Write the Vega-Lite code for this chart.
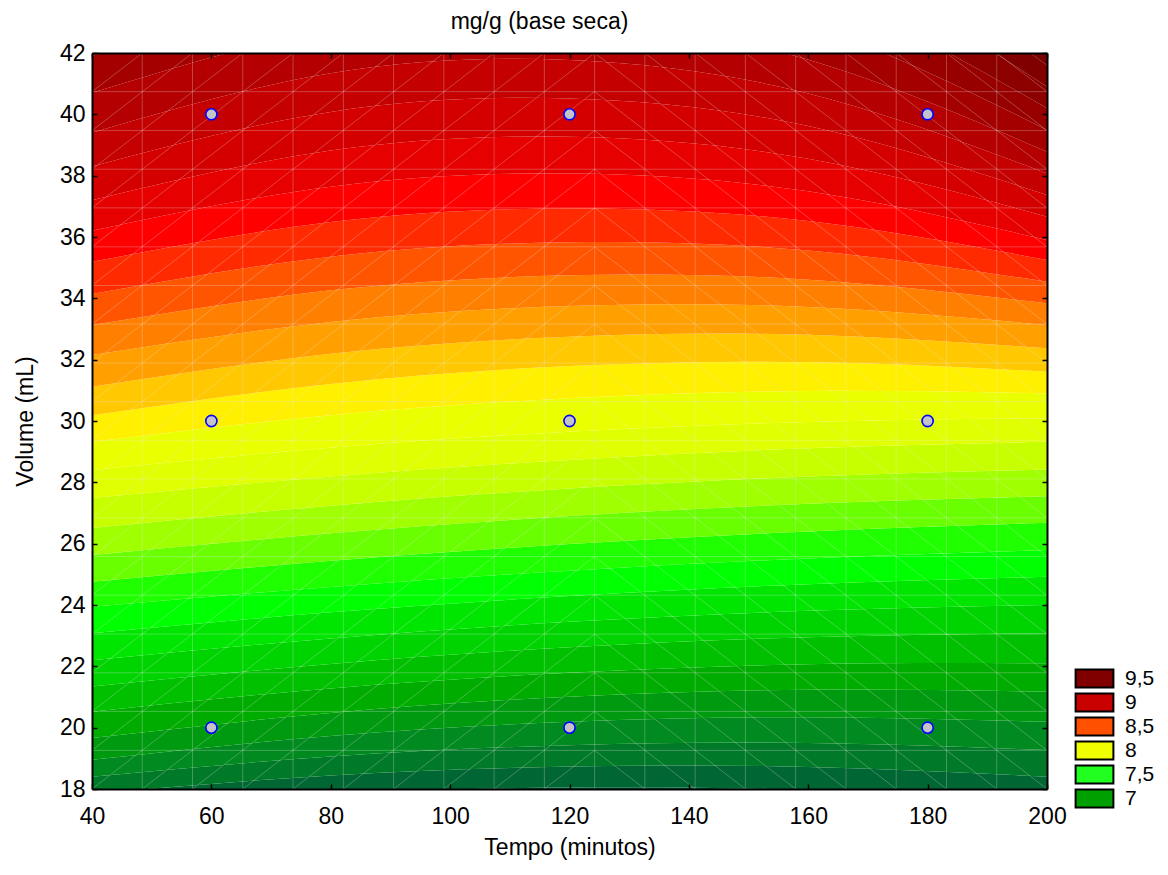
{
  "$schema": "https://vega.github.io/schema/vega-lite/v6.json",
  "width": 955,
  "height": 736,
  "autosize": {"type": "none"},
  "padding": {"left": 92, "top": 53, "right": 121, "bottom": 86},
  "background": "white",
  "title": {"text": "mg/g (base seca)", "fontSize": 23, "font": "Liberation Sans", "fontWeight": "normal", "color": "black", "offset": 8, "dx": -30},
  "config": {"view": {"stroke": null}, "font": "Liberation Sans"},
  "datasets": {
    "bands": [
      {"z":6.3,"t":40,"lo":10,"hi":16.8},{"z":6.3,"t":80,"lo":10,"hi":17.26},{"z":6.3,"t":120,"lo":10,"hi":17.4},{"z":6.3,"t":160,"lo":10,"hi":17.21},{"z":6.3,"t":200,"lo":10,"hi":16.7},
      {"z":6.4,"t":40,"lo":16.8,"hi":17.3},{"z":6.4,"t":80,"lo":17.26,"hi":17.83},{"z":6.4,"t":120,"lo":17.4,"hi":18.05},{"z":6.4,"t":160,"lo":17.21,"hi":17.96},{"z":6.4,"t":200,"lo":16.7,"hi":17.55},
      {"z":6.5,"t":40,"lo":17.3,"hi":17.85},{"z":6.5,"t":80,"lo":17.83,"hi":18.44},{"z":6.5,"t":120,"lo":18.05,"hi":18.73},{"z":6.5,"t":160,"lo":17.96,"hi":18.72},{"z":6.5,"t":200,"lo":17.55,"hi":18.4},
      {"z":6.6,"t":40,"lo":17.85,"hi":18.4},{"z":6.6,"t":80,"lo":18.44,"hi":19.06},{"z":6.6,"t":120,"lo":18.73,"hi":19.43},{"z":6.6,"t":160,"lo":18.72,"hi":19.5},{"z":6.6,"t":200,"lo":18.4,"hi":19.27},
      {"z":6.7,"t":40,"lo":18.4,"hi":18.95},{"z":6.7,"t":80,"lo":19.06,"hi":19.73},{"z":6.7,"t":120,"lo":19.43,"hi":20.19},{"z":6.7,"t":160,"lo":19.5,"hi":20.34},{"z":6.7,"t":200,"lo":19.27,"hi":20.19},
      {"z":6.8,"t":40,"lo":18.95,"hi":19.66},{"z":6.8,"t":80,"lo":19.73,"hi":20.48},{"z":6.8,"t":120,"lo":20.19,"hi":21.01},{"z":6.8,"t":160,"lo":20.34,"hi":21.24},{"z":6.8,"t":200,"lo":20.19,"hi":21.17},
      {"z":6.9,"t":40,"lo":19.66,"hi":20.52},{"z":6.9,"t":80,"lo":20.48,"hi":21.28},{"z":6.9,"t":120,"lo":21.01,"hi":21.79},{"z":6.9,"t":160,"lo":21.24,"hi":22.07},{"z":6.9,"t":200,"lo":21.17,"hi":22.1},
      {"z":7.0,"t":40,"lo":20.52,"hi":21.34},{"z":7.0,"t":80,"lo":21.28,"hi":22.08},{"z":7.0,"t":120,"lo":21.79,"hi":22.62},{"z":7.0,"t":160,"lo":22.07,"hi":22.95},{"z":7.0,"t":200,"lo":22.1,"hi":23.08},
      {"z":7.1,"t":40,"lo":21.34,"hi":22.2},{"z":7.1,"t":80,"lo":22.08,"hi":22.91},{"z":7.1,"t":120,"lo":22.62,"hi":23.45},{"z":7.1,"t":160,"lo":22.95,"hi":23.81},{"z":7.1,"t":200,"lo":23.08,"hi":24.0},
      {"z":7.2,"t":40,"lo":22.2,"hi":23.08},{"z":7.2,"t":80,"lo":22.91,"hi":23.76},{"z":7.2,"t":120,"lo":23.45,"hi":24.29},{"z":7.2,"t":160,"lo":23.81,"hi":24.68},{"z":7.2,"t":200,"lo":24.0,"hi":24.92},
      {"z":7.3,"t":40,"lo":23.08,"hi":23.94},{"z":7.3,"t":80,"lo":23.76,"hi":24.59},{"z":7.3,"t":120,"lo":24.29,"hi":25.12},{"z":7.3,"t":160,"lo":24.68,"hi":25.52},{"z":7.3,"t":200,"lo":24.92,"hi":25.79},
      {"z":7.4,"t":40,"lo":23.94,"hi":24.76},{"z":7.4,"t":80,"lo":24.59,"hi":25.44},{"z":7.4,"t":120,"lo":25.12,"hi":25.99},{"z":7.4,"t":160,"lo":25.52,"hi":26.4},{"z":7.4,"t":200,"lo":25.79,"hi":26.68},
      {"z":7.5,"t":40,"lo":24.76,"hi":25.63},{"z":7.5,"t":80,"lo":25.44,"hi":26.34},{"z":7.5,"t":120,"lo":25.99,"hi":26.9},{"z":7.5,"t":160,"lo":26.4,"hi":27.3},{"z":7.5,"t":200,"lo":26.68,"hi":27.55},
      {"z":7.6,"t":40,"lo":25.63,"hi":26.51},{"z":7.6,"t":80,"lo":26.34,"hi":27.24},{"z":7.6,"t":120,"lo":26.9,"hi":27.8},{"z":7.6,"t":160,"lo":27.3,"hi":28.19},{"z":7.6,"t":200,"lo":27.55,"hi":28.42},
      {"z":7.7,"t":40,"lo":26.51,"hi":27.49},{"z":7.7,"t":80,"lo":27.24,"hi":28.19},{"z":7.7,"t":120,"lo":27.8,"hi":28.73},{"z":7.7,"t":160,"lo":28.19,"hi":29.11},{"z":7.7,"t":200,"lo":28.42,"hi":29.32},
      {"z":7.8,"t":40,"lo":27.49,"hi":28.4},{"z":7.8,"t":80,"lo":28.19,"hi":29.13},{"z":7.8,"t":120,"lo":28.73,"hi":29.65},{"z":7.8,"t":160,"lo":29.11,"hi":29.97},{"z":7.8,"t":200,"lo":29.32,"hi":30.09},
      {"z":7.9,"t":40,"lo":28.4,"hi":29.32},{"z":7.9,"t":80,"lo":29.13,"hi":30.19},{"z":7.9,"t":120,"lo":29.65,"hi":30.74},{"z":7.9,"t":160,"lo":29.97,"hi":30.98},{"z":7.9,"t":200,"lo":30.09,"hi":30.9},
      {"z":8.0,"t":40,"lo":29.32,"hi":30.19},{"z":8.0,"t":80,"lo":30.19,"hi":31.21},{"z":8.0,"t":120,"lo":30.74,"hi":31.79},{"z":8.0,"t":160,"lo":30.98,"hi":31.92},{"z":8.0,"t":200,"lo":30.9,"hi":31.61},
      {"z":8.1,"t":40,"lo":30.19,"hi":31.12},{"z":8.1,"t":80,"lo":31.21,"hi":32.19},{"z":8.1,"t":120,"lo":31.79,"hi":32.75},{"z":8.1,"t":160,"lo":31.92,"hi":32.81},{"z":8.1,"t":200,"lo":31.61,"hi":32.37},
      {"z":8.2,"t":40,"lo":31.12,"hi":32.15},{"z":8.2,"t":80,"lo":32.19,"hi":33.23},{"z":8.2,"t":120,"lo":32.75,"hi":33.75},{"z":8.2,"t":160,"lo":32.81,"hi":33.72},{"z":8.2,"t":200,"lo":32.37,"hi":33.13},
      {"z":8.3,"t":40,"lo":32.15,"hi":33.13},{"z":8.3,"t":80,"lo":33.23,"hi":34.26},{"z":8.3,"t":120,"lo":33.75,"hi":34.75},{"z":8.3,"t":160,"lo":33.72,"hi":34.61},{"z":8.3,"t":200,"lo":33.13,"hi":33.84},
      {"z":8.4,"t":40,"lo":33.13,"hi":34.14},{"z":8.4,"t":80,"lo":34.26,"hi":35.36},{"z":8.4,"t":120,"lo":34.75,"hi":35.83},{"z":8.4,"t":160,"lo":34.61,"hi":35.56},{"z":8.4,"t":200,"lo":33.84,"hi":34.54},
      {"z":8.5,"t":40,"lo":34.14,"hi":35.19},{"z":8.5,"t":80,"lo":35.36,"hi":36.49},{"z":8.5,"t":120,"lo":35.83,"hi":36.93},{"z":8.5,"t":160,"lo":35.56,"hi":36.52},{"z":8.5,"t":200,"lo":34.54,"hi":35.25},
      {"z":8.6,"t":40,"lo":35.19,"hi":36.2},{"z":8.6,"t":80,"lo":36.49,"hi":37.64},{"z":8.6,"t":120,"lo":36.93,"hi":38.07},{"z":8.6,"t":160,"lo":36.52,"hi":37.49},{"z":8.6,"t":200,"lo":35.25,"hi":35.9},
      {"z":8.7,"t":40,"lo":36.2,"hi":37.2},{"z":8.7,"t":80,"lo":37.64,"hi":38.82},{"z":8.7,"t":120,"lo":38.07,"hi":39.27},{"z":8.7,"t":160,"lo":37.49,"hi":38.55},{"z":8.7,"t":200,"lo":35.9,"hi":36.66},
      {"z":8.8,"t":40,"lo":37.2,"hi":38.3},{"z":8.8,"t":80,"lo":38.82,"hi":40.08},{"z":8.8,"t":120,"lo":39.27,"hi":40.52},{"z":8.8,"t":160,"lo":38.55,"hi":39.62},{"z":8.8,"t":200,"lo":36.66,"hi":37.37},
      {"z":8.9,"t":40,"lo":38.3,"hi":39.4},{"z":8.9,"t":80,"lo":40.08,"hi":41.34},{"z":8.9,"t":120,"lo":40.52,"hi":41.77},{"z":8.9,"t":160,"lo":39.62,"hi":40.68},{"z":8.9,"t":200,"lo":37.37,"hi":38.07},
      {"z":9.0,"t":40,"lo":39.4,"hi":40.7},{"z":9.0,"t":80,"lo":41.34,"hi":42.74},{"z":9.0,"t":120,"lo":41.77,"hi":43.1},{"z":9.0,"t":160,"lo":40.68,"hi":41.78},{"z":9.0,"t":200,"lo":38.07,"hi":38.78},
      {"z":9.1,"t":40,"lo":40.7,"hi":41.9},{"z":9.1,"t":80,"lo":42.74,"hi":44.15},{"z":9.1,"t":120,"lo":43.1,"hi":44.5},{"z":9.1,"t":160,"lo":41.78,"hi":42.95},{"z":9.1,"t":200,"lo":38.78,"hi":39.49},
      {"z":9.2,"t":40,"lo":41.9,"hi":43.2},{"z":9.2,"t":80,"lo":44.15,"hi":45.68},{"z":9.2,"t":120,"lo":44.5,"hi":46.0},{"z":9.2,"t":160,"lo":42.95,"hi":44.18},{"z":9.2,"t":200,"lo":39.49,"hi":40.2},
      {"z":9.3,"t":40,"lo":43.2,"hi":44.6},{"z":9.3,"t":80,"lo":45.68,"hi":47.31},{"z":9.3,"t":120,"lo":46.0,"hi":47.6},{"z":9.3,"t":160,"lo":44.18,"hi":45.46},{"z":9.3,"t":200,"lo":40.2,"hi":40.9},
      {"z":9.4,"t":40,"lo":44.6,"hi":46.0},{"z":9.4,"t":80,"lo":47.31,"hi":49.03},{"z":9.4,"t":120,"lo":47.6,"hi":49.3},{"z":9.4,"t":160,"lo":45.46,"hi":46.83},{"z":9.4,"t":200,"lo":40.9,"hi":41.6},
      {"z":9.5,"t":40,"lo":46.0,"hi":47.5},{"z":9.5,"t":80,"lo":49.03,"hi":50.78},{"z":9.5,"t":120,"lo":49.3,"hi":51.0},{"z":9.5,"t":160,"lo":46.83,"hi":48.18},{"z":9.5,"t":200,"lo":41.6,"hi":42.3},
      {"z":9.6,"t":40,"lo":47.5,"hi":60},{"z":9.6,"t":80,"lo":50.78,"hi":60},{"z":9.6,"t":120,"lo":51.0,"hi":60},{"z":9.6,"t":160,"lo":48.18,"hi":60},{"z":9.6,"t":200,"lo":42.3,"hi":60}
    ],
    "mesh": [
      {"t1":48.42,"v1":18,"t2":48.42,"v2":42},{"t1":56.84,"v1":18,"t2":56.84,"v2":42},{"t1":65.26,"v1":18,"t2":65.26,"v2":42},
      {"t1":73.68,"v1":18,"t2":73.68,"v2":42},{"t1":82.11,"v1":18,"t2":82.11,"v2":42},{"t1":90.53,"v1":18,"t2":90.53,"v2":42},
      {"t1":98.95,"v1":18,"t2":98.95,"v2":42},{"t1":107.37,"v1":18,"t2":107.37,"v2":42},{"t1":115.79,"v1":18,"t2":115.79,"v2":42},
      {"t1":124.21,"v1":18,"t2":124.21,"v2":42},{"t1":132.63,"v1":18,"t2":132.63,"v2":42},{"t1":141.05,"v1":18,"t2":141.05,"v2":42},
      {"t1":149.47,"v1":18,"t2":149.47,"v2":42},{"t1":157.89,"v1":18,"t2":157.89,"v2":42},{"t1":166.32,"v1":18,"t2":166.32,"v2":42},
      {"t1":174.74,"v1":18,"t2":174.74,"v2":42},{"t1":183.16,"v1":18,"t2":183.16,"v2":42},{"t1":191.58,"v1":18,"t2":191.58,"v2":42},
      {"t1":40,"v1":19.26,"t2":200,"v2":19.26},{"t1":40,"v1":20.53,"t2":200,"v2":20.53},{"t1":40,"v1":21.79,"t2":200,"v2":21.79},
      {"t1":40,"v1":23.05,"t2":200,"v2":23.05},{"t1":40,"v1":24.32,"t2":200,"v2":24.32},{"t1":40,"v1":25.58,"t2":200,"v2":25.58},
      {"t1":40,"v1":26.84,"t2":200,"v2":26.84},{"t1":40,"v1":28.11,"t2":200,"v2":28.11},{"t1":40,"v1":29.37,"t2":200,"v2":29.37},
      {"t1":40,"v1":30.63,"t2":200,"v2":30.63},{"t1":40,"v1":31.89,"t2":200,"v2":31.89},{"t1":40,"v1":33.16,"t2":200,"v2":33.16},
      {"t1":40,"v1":34.42,"t2":200,"v2":34.42},{"t1":40,"v1":35.68,"t2":200,"v2":35.68},{"t1":40,"v1":36.95,"t2":200,"v2":36.95},
      {"t1":40,"v1":38.21,"t2":200,"v2":38.21},{"t1":40,"v1":39.47,"t2":200,"v2":39.47},{"t1":40,"v1":40.74,"t2":200,"v2":40.74},
      {"t1":40,"v1":18,"t2":124.21,"v2":30.63},{"t1":40,"v1":19.26,"t2":124.21,"v2":31.89},{"t1":40,"v1":20.53,"t2":124.21,"v2":33.16},
      {"t1":40,"v1":21.79,"t2":124.21,"v2":34.42},{"t1":40,"v1":23.05,"t2":124.21,"v2":35.68},{"t1":40,"v1":24.32,"t2":124.21,"v2":36.95},
      {"t1":40,"v1":25.58,"t2":124.21,"v2":38.21},{"t1":40,"v1":26.84,"t2":124.21,"v2":39.47},{"t1":40,"v1":28.11,"t2":124.21,"v2":40.74},
      {"t1":40,"v1":29.37,"t2":124.21,"v2":42},{"t1":40,"v1":30.63,"t2":115.79,"v2":42},{"t1":40,"v1":31.89,"t2":107.37,"v2":42},
      {"t1":40,"v1":33.16,"t2":98.95,"v2":42},{"t1":40,"v1":34.42,"t2":90.53,"v2":42},{"t1":40,"v1":35.68,"t2":82.11,"v2":42},
      {"t1":40,"v1":36.95,"t2":73.68,"v2":42},{"t1":40,"v1":38.21,"t2":65.26,"v2":42},{"t1":40,"v1":39.47,"t2":56.84,"v2":42},
      {"t1":40,"v1":40.74,"t2":48.42,"v2":42},
      {"t1":48.42,"v1":18,"t2":124.21,"v2":29.37},{"t1":56.84,"v1":18,"t2":124.21,"v2":28.11},{"t1":65.26,"v1":18,"t2":124.21,"v2":26.84},
      {"t1":73.68,"v1":18,"t2":124.21,"v2":25.58},{"t1":82.11,"v1":18,"t2":124.21,"v2":24.32},{"t1":90.53,"v1":18,"t2":124.21,"v2":23.05},
      {"t1":98.95,"v1":18,"t2":124.21,"v2":21.79},{"t1":107.37,"v1":18,"t2":124.21,"v2":20.53},{"t1":115.79,"v1":18,"t2":124.21,"v2":19.26},
      {"t1":124.21,"v1":19.26,"t2":132.63,"v2":18},{"t1":124.21,"v1":20.53,"t2":141.05,"v2":18},{"t1":124.21,"v1":21.79,"t2":149.47,"v2":18},
      {"t1":124.21,"v1":23.05,"t2":157.89,"v2":18},{"t1":124.21,"v1":24.32,"t2":166.32,"v2":18},{"t1":124.21,"v1":25.58,"t2":174.74,"v2":18},
      {"t1":124.21,"v1":26.84,"t2":183.16,"v2":18},{"t1":124.21,"v1":28.11,"t2":191.58,"v2":18},{"t1":124.21,"v1":29.37,"t2":200,"v2":18},
      {"t1":124.21,"v1":30.63,"t2":200,"v2":19.26},{"t1":124.21,"v1":31.89,"t2":200,"v2":20.53},{"t1":124.21,"v1":33.16,"t2":200,"v2":21.79},
      {"t1":124.21,"v1":34.42,"t2":200,"v2":23.05},{"t1":124.21,"v1":35.68,"t2":200,"v2":24.32},{"t1":124.21,"v1":36.95,"t2":200,"v2":25.58},
      {"t1":124.21,"v1":38.21,"t2":200,"v2":26.84},{"t1":124.21,"v1":39.47,"t2":200,"v2":28.11},{"t1":124.21,"v1":40.74,"t2":200,"v2":29.37},
      {"t1":124.21,"v1":42,"t2":200,"v2":30.63},
      {"t1":132.63,"v1":42,"t2":200,"v2":31.89},{"t1":141.05,"v1":42,"t2":200,"v2":33.16},{"t1":149.47,"v1":42,"t2":200,"v2":34.42},
      {"t1":157.89,"v1":42,"t2":200,"v2":35.68},{"t1":166.32,"v1":42,"t2":200,"v2":36.95},{"t1":174.74,"v1":42,"t2":200,"v2":38.21},
      {"t1":183.16,"v1":42,"t2":200,"v2":39.47},{"t1":191.58,"v1":42,"t2":200,"v2":40.74}
    ],
    "pts": [
      {"t":60,"v":20},{"t":60,"v":30},{"t":60,"v":40},
      {"t":120,"v":20},{"t":120,"v":30},{"t":120,"v":40},
      {"t":180,"v":20},{"t":180,"v":30},{"t":180,"v":40}
    ],
    "leg": [
      {"lab":"9,5","t":0,"v":0},{"lab":"9","t":0,"v":0},{"lab":"8,5","t":0,"v":0},
      {"lab":"8","t":0,"v":0},{"lab":"7,5","t":0,"v":0},{"lab":"7","t":0,"v":0}
    ]
  },
  "layer": [
    {
      "data": {"name": "bands"},
      "mark": {"type": "area", "interpolate": "natural", "clip": true, "orient": "vertical"},
      "encoding": {
        "x": {"field": "t", "type": "quantitative",
          "scale": {"domain": [40, 200], "nice": false, "zero": false},
          "axis": {"orient": "bottom", "values": [40,60,80,100,120,140,160,180,200], "title": "Tempo (minutos)",
            "titleFontSize": 23, "titleFont": "Liberation Sans", "titleFontWeight": "normal", "titleColor": "black", "titlePadding": 8,
            "labelFontSize": 23, "labelFont": "Liberation Sans", "labelColor": "black", "labelPadding": 21, "labelFlush": false, "labelOverlap": false,
            "tickSize": -5, "tickColor": "black", "tickWidth": 1.5,
            "domainColor": "black", "domainWidth": 2, "grid": false, "zindex": 1}},
        "y": {"field": "lo", "type": "quantitative",
          "scale": {"domain": [18, 42], "nice": false, "zero": false},
          "axis": {"orient": "left", "values": [18,20,22,24,26,28,30,32,34,36,38,40,42], "title": "Volume (mL)",
            "titleFontSize": 23, "titleFont": "Liberation Sans", "titleFontWeight": "normal", "titleColor": "black", "titlePadding": 22,
            "labelFontSize": 23, "labelFont": "Liberation Sans", "labelColor": "black", "labelPadding": 12, "labelFlush": false, "labelOverlap": false,
            "tickSize": -5, "tickColor": "black", "tickWidth": 1.5,
            "domainColor": "black", "domainWidth": 2, "grid": false, "zindex": 1}},
        "y2": {"field": "hi"},
        "color": {"field": "z", "type": "ordinal",
          "scale": {
            "domain": [6.3,6.4,6.5,6.6,6.7,6.8,6.9,7.0,7.1,7.2,7.3,7.4,7.5,7.6,7.7,7.8,7.9,8.0,8.1,8.2,8.3,8.4,8.5,8.6,8.7,8.8,8.9,9.0,9.1,9.2,9.3,9.4,9.5,9.6],
            "range": ["#005040","#005c38","#006633","#007a28","#008a20","#009a10","#00ac00","#00c000","#00d400","#00e600","#00ff00","#20ff00","#6aff00","#a0ff00","#c8ff00","#e0ff00","#eaff00","#fff000","#ffc800","#ffa000","#ff7f00","#ff5500","#ff2a00","#ff0000","#e60000","#d40000","#c40000","#b40000","#a40000","#980000","#8c0000","#800000","#760000","#6c0000"]},
          "legend": null}
      }
    },
    {
      "data": {"name": "mesh"},
      "mark": {"type": "rule", "clip": true, "stroke": "#e8e8e8", "strokeWidth": 1, "opacity": 0.28},
      "encoding": {
        "x": {"field": "t1", "type": "quantitative", "scale": {"domain": [40, 200], "nice": false, "zero": false}, "axis": null},
        "x2": {"field": "t2"},
        "y": {"field": "v1", "type": "quantitative", "scale": {"domain": [18, 42], "nice": false, "zero": false}, "axis": null},
        "y2": {"field": "v2"}
      }
    },
    {
      "data": {"name": "pts"},
      "mark": {"type": "point", "shape": "circle", "filled": true, "fill": "#c4c4c8", "stroke": "#0000ff", "strokeWidth": 1.6, "size": 125, "opacity": 1},
      "encoding": {
        "x": {"field": "t", "type": "quantitative",
          "scale": {"domain": [40, 200], "nice": false, "zero": false},
          "axis": {"orient": "top", "values": [40,60,80,100,120,140,160,180,200], "title": null, "labels": false,
            "tickSize": -5, "tickColor": "black", "tickWidth": 1.5, "domainColor": "black", "domainWidth": 2, "grid": false, "zindex": 1}},
        "y": {"field": "v", "type": "quantitative",
          "scale": {"domain": [18, 42], "nice": false, "zero": false},
          "axis": {"orient": "right", "values": [18,20,22,24,26,28,30,32,34,36,38,40,42], "title": null, "labels": false,
            "tickSize": -5, "tickColor": "black", "tickWidth": 1.5, "domainColor": "black", "domainWidth": 2, "grid": false, "zindex": 1}}
      }
    },
    {
      "data": {"name": "leg"},
      "mark": {"type": "square", "filled": true, "clip": true, "stroke": "black", "strokeWidth": 2},
      "encoding": {
        "x": {"field": "t", "type": "quantitative", "scale": {"domain": [40, 200], "nice": false, "zero": false}, "axis": null},
        "y": {"field": "v", "type": "quantitative", "scale": {"domain": [18, 42], "nice": false, "zero": false}, "axis": null},
        "fill": {"field": "lab", "type": "nominal",
          "scale": {"domain": ["9,5","9","8,5","8","7,5","7"], "range": ["#800000","#c80000","#ff5000","#f0ff00","#20ff20","#00a000"]},
          "legend": {"title": null, "orient": "none", "legendX": 992, "legendY": 615,
            "symbolType": "M-2.1,-1H2.1V1H-2.1Z", "symbolSize": 324, "symbolStrokeColor": "black", "symbolStrokeWidth": 2, "symbolOpacity": 1,
            "labelFontSize": 21, "labelFont": "Liberation Sans", "labelColor": "black", "labelOffset": 20, "rowPadding": -3, "padding": 0}}
      }
    }
  ],
  "resolve": {"axis": {"x": "independent", "y": "independent"}}
}
